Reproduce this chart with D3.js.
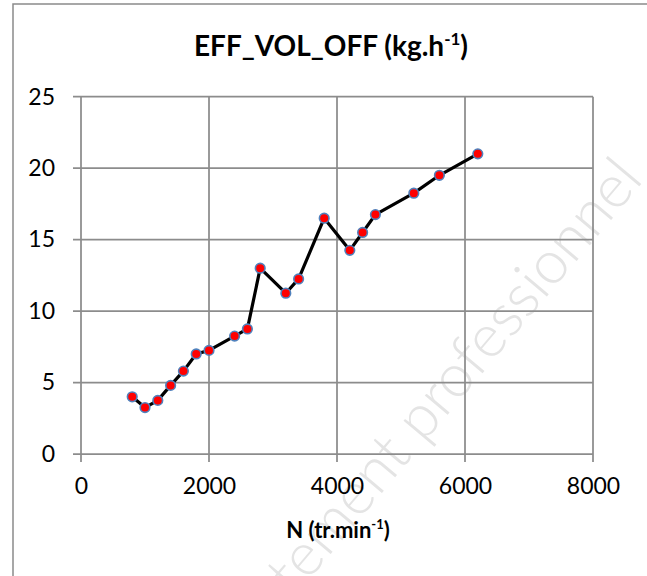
<!DOCTYPE html>
<html><head><meta charset="utf-8">
<script src="https://cdn.jsdelivr.net/npm/d3@7"></script>
<style>body{margin:0;background:#fff;}svg{display:block;}</style>
</head><body>
<svg id="c" width="647" height="576"></svg>
<script>
const speeds = [800,1000,1200,1400,1600,1800,2000,2400,2600,2800,3200,3400,3800,4200,4400,4600,5200,5600,6200];
const values = [4.0,3.25,3.75,4.8,5.8,7.0,7.25,8.25,8.75,13.0,11.25,12.25,16.5,14.25,15.5,16.75,18.25,19.5,21.0];
const xTicks = [0,2000,4000,6000,8000];
const yTicks = [0,5,10,15,20,25];

const svg = d3.select("#c");
const font = "Lato, 'Open Sans', sans-serif";
const W = 647, H = 576;

// watermark
const wm = svg.append("g").attr("transform","translate(418,450) rotate(-50)")
  .attr("font-family", font).attr("font-weight",300)
  .attr("font-size",60).attr("fill","#e4e4e4");
wm.append("text").attr("text-anchor","end").attr("x",-8).text("strictement");
wm.append("text").attr("text-anchor","start").attr("x",8).text("professionnel");

// outer chart border (cropped)
svg.append("rect").attr("x",13).attr("y",4).attr("width",W+20).attr("height",H+20)
  .attr("fill","none").attr("stroke","#8a8a8a").attr("stroke-width",1.5);

const x = d3.scaleLinear().domain([0,8000]).range([81,593]);
const y = d3.scaleLinear().domain([0,25]).range([454,96.7]);

const grid = svg.append("g").attr("stroke","#8c8c8c").attr("stroke-width",1.75);
grid.selectAll(".h").data(yTicks).join("line")
  .attr("x1",73).attr("x2",x(8000)).attr("y1",d=>y(d)).attr("y2",d=>y(d));
grid.selectAll(".v").data(xTicks).join("line")
  .attr("y1",y(25)).attr("y2",462).attr("x1",d=>x(d)).attr("x2",d=>x(d));

const ax = svg.append("g").attr("transform",`translate(0,${y(0)})`)
  .call(d3.axisBottom(x).tickValues(xTicks).tickSize(0).tickPadding(24).tickFormat(d3.format("d")));
const ay = svg.append("g").attr("transform",`translate(${x(0)},0)`)
  .call(d3.axisLeft(y).tickValues(yTicks).tickSize(0).tickPadding(26).tickFormat(d3.format("d")));
[ax,ay].forEach(a=>{
  a.select(".domain").remove();
  a.selectAll("text").attr("font-family",font).attr("font-size",23).attr("fill","#000");
});

const pts = speeds.map((s,i)=>[s,values[i]]);
svg.append("path").datum(pts)
  .attr("fill","none").attr("stroke","#000").attr("stroke-width",3.2).attr("stroke-linejoin","round")
  .attr("d", d3.line().x(d=>x(d[0])).y(d=>y(d[1])));
svg.selectAll(".pt").data(pts).join("circle")
  .attr("cx",d=>x(d[0])).attr("cy",d=>y(d[1])).attr("r",4.8)
  .attr("fill","#ff0000").attr("stroke","#4f81bd").attr("stroke-width",1.6);

const t = svg.append("text").attr("x",331).attr("y",56).attr("text-anchor","middle")
  .attr("font-family",font).attr("font-weight","bold").attr("font-size",28).attr("fill","#000");
t.append("tspan").text("EFF_VOL_OFF (kg.h");
t.append("tspan").attr("font-size",17).attr("dy",-11).text("-1");
t.append("tspan").attr("dy",11).text(")");

const xt = svg.append("text").attr("x",338).attr("y",538).attr("text-anchor","middle")
  .attr("font-family",font).attr("font-weight","bold").attr("font-size",22).attr("fill","#000");
xt.append("tspan").text("N (tr.min");
xt.append("tspan").attr("font-size",13).attr("dy",-9).text("-1");
xt.append("tspan").attr("dy",9).text(")");
</script>
</body></html>
